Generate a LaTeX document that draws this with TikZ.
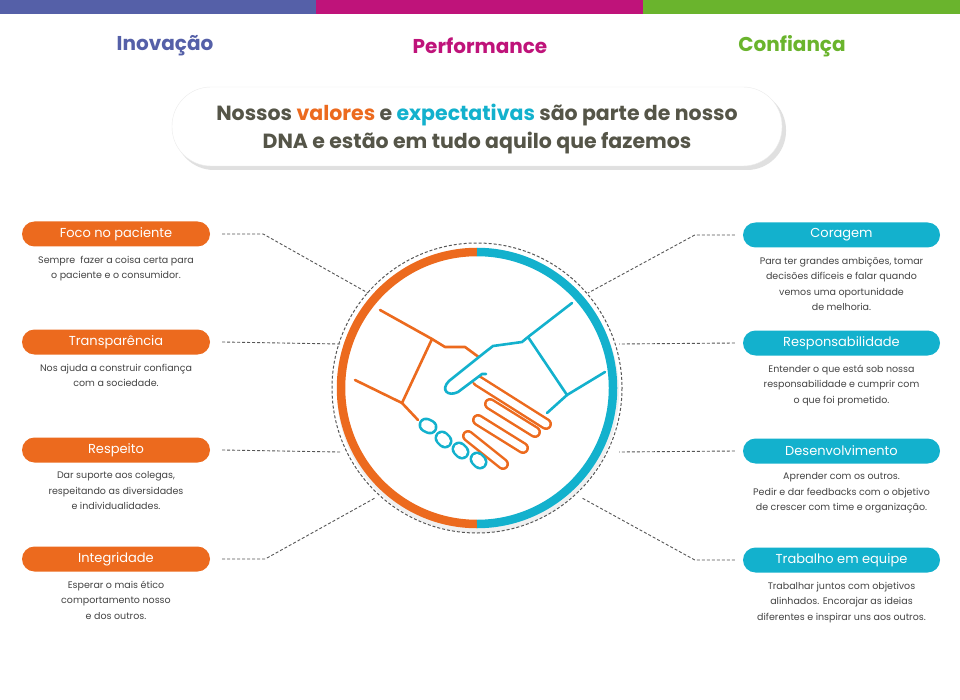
\documentclass[tikz,border=0pt]{standalone}
\usepackage{fontspec}
\setmainfont{Poppins}
\usetikzlibrary{calc}
\definecolor{org}{HTML}{EC6A1E}
\definecolor{tea}{HTML}{13B1CD}
\definecolor{ino}{HTML}{5560A8}
\definecolor{mag}{HTML}{BF137A}
\definecolor{grn}{HTML}{6AB42D}
\definecolor{txt}{HTML}{444444}
\definecolor{ban}{HTML}{555548}
\tikzset{
 pill/.style={fill=#1,rounded corners=12.5pt,minimum width=188pt,minimum height=25pt,inner sep=0pt,text=white,font=\fontsize{13}{14}\selectfont},
 desc/.style={text=txt,align=center,font=\fontsize{9.5}{15.5}\selectfont,inner sep=0pt},
 con/.style={draw=txt!90,dashed,line width=0.9pt,dash pattern=on 3pt off 2pt},
 hand/.style={line width=2.6pt,line join=round,line cap=round},
}
\newcommand{\capsule}[3]{\draw[#1,line width=12pt,line cap=round] #2 -- #3; \draw[white,line width=7pt,line cap=round] #2 -- #3;}
\newcommand{\knuckle}[3]{\draw[#1,line width=15pt,line cap=round] #2 -- #3; \draw[white,line width=10pt,line cap=round] #2 -- #3;}
\begin{document}
\begin{tikzpicture}[x=1pt,y=-1pt]
\useasboundingbox (0,0) rectangle (960,700);
\fill[white] (0,0) rectangle (960,700);
\fill[ino] (0,0) rectangle (316,14);
\fill[mag] (316,0) rectangle (643,14);
\fill[grn] (643,0) rectangle (960,14);
\node[text=ino,font=\fontsize{20}{22}\selectfont\bfseries] (h1) at (165,46) {Inovação};
\node[text=mag,font=\fontsize{20}{22}\selectfont\bfseries] (h2) at (480,46) {Performance};
\node[text=grn,font=\fontsize{20}{22}\selectfont\bfseries] (h3) at (792,46) {Confiança};
% banner
\draw[fill=black!12,draw=none,rounded corners=39pt] (175,91) rectangle (786,170);
\draw[fill=white,draw=black!8,rounded corners=39pt] (172,87) rectangle (782,166);
\node[text=ban,align=center,font=\fontsize{20.5}{28}\selectfont\bfseries] (ban) at (477,129)
 {Nossos \textcolor{org}{valores} e \textcolor{tea}{expectativas} são parte de nosso\\DNA e estão em tudo aquilo que fazemos};
% circle
\coordinate (c) at (477,388);
\fill[black!6] (478,392) circle (141);
\fill[white] (c) circle (140);
\draw[con,line width=1pt] (c) circle (145);
\draw[org,line width=8.5pt] (477,524) arc (90:270:136);
\draw[tea,line width=8.5pt] (477,524) arc (90:-90:136);
% handshake orange
\draw[org,hand] (380,310) -- (432,339) -- (402,403) -- (355,380);
\draw[org,hand] (432,339) -- (445,347) -- (465,347) -- (480,358);
\draw[org,hand] (402,403) -- (418,420);
\capsule{org}{(478,381)}{(546,424)}
\capsule{org}{(490,404)}{(535,432)}
\capsule{org}{(478,420)}{(523,448)}
\capsule{org}{(468,436)}{(503,464)}
\draw[white,line width=6pt,line cap=round] (476,380) -- (470,376);
% handshake blue
\draw[tea,hand] (572,303) -- (528,337) -- (567,395) -- (605,372);
\draw[tea,hand] (567,395) -- (547,413);
\draw[tea,hand,fill=white] (528,337) -- (522,342) -- (493,346) -- (484,353) -- (449,381) .. controls (440,390) and (448,397) .. (458,392) -- (482,374) -- (486,374);
\knuckle{tea}{(426,425)}{(430,427)}
\knuckle{tea}{(442,438)}{(445,441)}
\knuckle{tea}{(459,449)}{(462,452)}
\knuckle{tea}{(477,459)}{(480,462)}
% pills
\foreach \n/\y/\t in {p1/234/Foco no paciente,p2/342/Transparência,p3/450/Respeito,p4/559/Integridade}{
 \node[pill=org] (\n) at (116,\y) {\t};}
\foreach \n/\y/\t in {q1/235/Coragem,q2/343/Responsabilidade,q3/451/Desenvolvimento,q4/560/Trabalho em equipe}{
 \node[pill=tea,minimum width=197pt] (\n) at (841.5,\y) {\t};}
\node[desc,anchor=north] (d1) at (p1.south) [yshift=-9pt] {Sempre \ fazer a coisa certa para\\o paciente e o consumidor.};
\node[desc,anchor=north] (d2) at (p2.south) [yshift=-9pt] {Nos ajuda a construir confiança\\com a sociedade.};
\node[desc,anchor=north] (d3) at (p3.south) [yshift=-9pt] {Dar suporte aos colegas,\\respeitando as diversidades\\e individualidades.};
\node[desc,anchor=north] (d4) at (p4.south) [yshift=-9pt] {Esperar o mais ético\\comportamento nosso\\e dos outros.};
\node[desc,anchor=north] (e1) at (q1.south) [yshift=-9pt] {Para ter grandes ambições, tomar\\decisões difíceis e falar quando\\vemos uma oportunidade\\de melhoria.};
\node[desc,anchor=north] (e2) at (q2.south) [yshift=-9pt] {Entender o que está sob nossa\\responsabilidade e cumprir com\\o que foi prometido.};
\node[desc,anchor=north] (e3) at (q3.south) [yshift=-9pt] {Aprender com os outros.\\Pedir e dar feedbacks com o objetivo\\de crescer com time e organização.};
\node[desc,anchor=north] (e4) at (q4.south) [yshift=-9pt] {Trabalhar juntos com objetivos\\alinhados. Encorajar as ideias\\diferentes e inspirar uns aos outros.};
% connectors
\coordinate (a1) at (368,293); \coordinate (a2) at (340,344); \coordinate (a3) at (340,452); \coordinate (a4) at (375,498);
\coordinate (b1) at (588,293); \coordinate (b2) at (619,344); \coordinate (b3) at (619,452); \coordinate (b4) at (582,498);
\draw[con] ([xshift=12pt]p1.east) -- ++(41,0) -- (a1);
\draw[con] ([xshift=12pt]p2.east) -- (a2);
\draw[con] ([xshift=12pt]p3.east) -- (a3);
\draw[con] ([xshift=12pt]p4.east) -- ++(43,0) -- (a4);
\draw[con] ([xshift=-8pt]q1.west) -- ++(-40,0) -- (b1);
\draw[con] ([xshift=-8pt]q2.west) -- (b2);
\draw[con] ([xshift=-8pt]q3.west) -- (b3);
\draw[con] ([xshift=-8pt]q4.west) -- ++(-40,0) -- (b4);
\end{tikzpicture}
\end{document}
